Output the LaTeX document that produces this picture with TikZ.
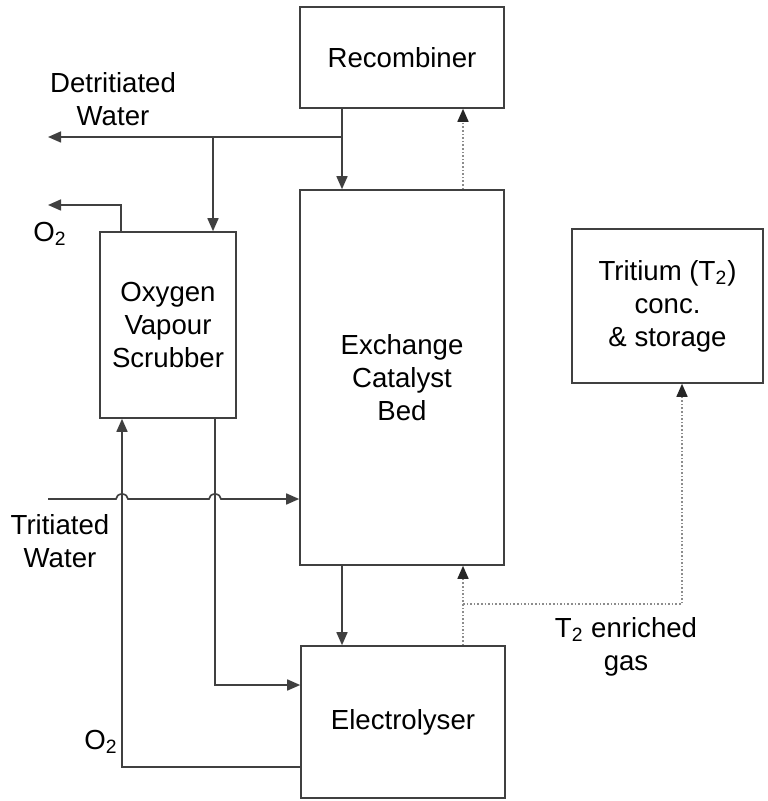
\documentclass[tikz,border=0pt]{standalone}
\usepackage{fontspec}
\setmainfont{Liberation Sans}
\usetikzlibrary{arrows.meta}

\begin{document}
\begin{tikzpicture}[
    x=0.5pt, y=-0.5pt,
    font=\fontsize{13.8}{16.5}\selectfont,
    box/.style={rectangle, draw=black!75, line width=0.8pt, fill=white, align=center, text=black, inner sep=0pt},
    lbl/.style={align=center, text=black, inner sep=0pt},
    arrow/.style={-{Triangle[length=6.5pt, width=5.5pt]}, draw=black!75, line width=0.8pt},
    gas/.style={-{Triangle[length=6.5pt, width=5.5pt, color=black!85]}, draw=black!45, line width=0.8pt, densely dotted}
]
\useasboundingbox (0,0) rectangle (767,801);

% Nodes
\node[box, minimum width=102pt, minimum height=50.5pt] (rec) at (402,57.5) {Recombiner};
\node[box, minimum width=102pt, minimum height=187.5pt] (bed) at (402,377.5) {Exchange\\Catalyst\\Bed};
\node[box, minimum width=102pt, minimum height=76pt] (ely) at (403,722) {Electrolyser};
\node[box, minimum width=68pt, minimum height=93pt] (scr) at (168,325) {Oxygen\\Vapour\\Scrubber};
\node[box, minimum width=95.5pt, minimum height=77pt] (tri) at (667.5,306) {Tritium (T\textsubscript{2})\\conc.\\\& storage};

% Labels
\node[lbl] (dwlbl) at (113,99) {Detritiated\\Water};
\node[lbl] (o2top) at (50,234) {O\textsubscript{2}};
\node[lbl] (twlbl) at (60,541) {Tritiated\\Water};
\node[lbl] (o2bot) at (101,742) {O\textsubscript{2}};
\node[lbl] (gaslbl) at (626,647) {T\textsubscript{2} enriched\\gas};

% Corners and free ends
\coordinate (dj) at (342,137);   % detritiated water junction
\coordinate (sj) at (213,137);   % branch to scrubber
\coordinate (dwout) at (48,137);
\coordinate (o2c) at (121,205);
\coordinate (o2out) at (48,205);
\coordinate (twin) at (48,499);
\coordinate (ol) at (122,767);   % O2 return corner
\coordinate (sl) at (215,685);   % scrubber to electrolyser corner
\coordinate (gl) at (463,604);   % T2 gas branch
\coordinate (tl) at (682,604);

% Arrows
\draw[arrow] (rec.south -| dj) -- (bed.north -| dj);
\draw[arrow] (dj) -- (dwout);
\draw[arrow] (sj) -- (scr.north -| sj);
\draw[arrow] (scr.north -| o2c) -- (o2c) -- (o2out);
\draw[arrow] (twin) -- ([xshift=-3pt]twin -| ol)
    arc[start angle=180, end angle=0, x radius=3pt, y radius=2.5pt]
    -- ([xshift=-3pt]twin -| sl)
    arc[start angle=180, end angle=0, x radius=3pt, y radius=2.5pt]
    -- (bed.west |- twin);
\draw[arrow] (ely.west |- ol) -- (ol) -- (scr.south -| ol);
\draw[arrow] (scr.south -| sl) -- (sl) -- (ely.west |- sl);
\draw[arrow] (bed.south -| dj) -- (ely.north -| dj);

% Gas lines
\draw[gas] (bed.north -| gl) -- (rec.south -| gl);
\draw[gas] (ely.north -| gl) -- (bed.south -| gl);
\draw[gas] (gl) -- (tl) -- (tri.south -| tl);

\end{tikzpicture}
\end{document}
